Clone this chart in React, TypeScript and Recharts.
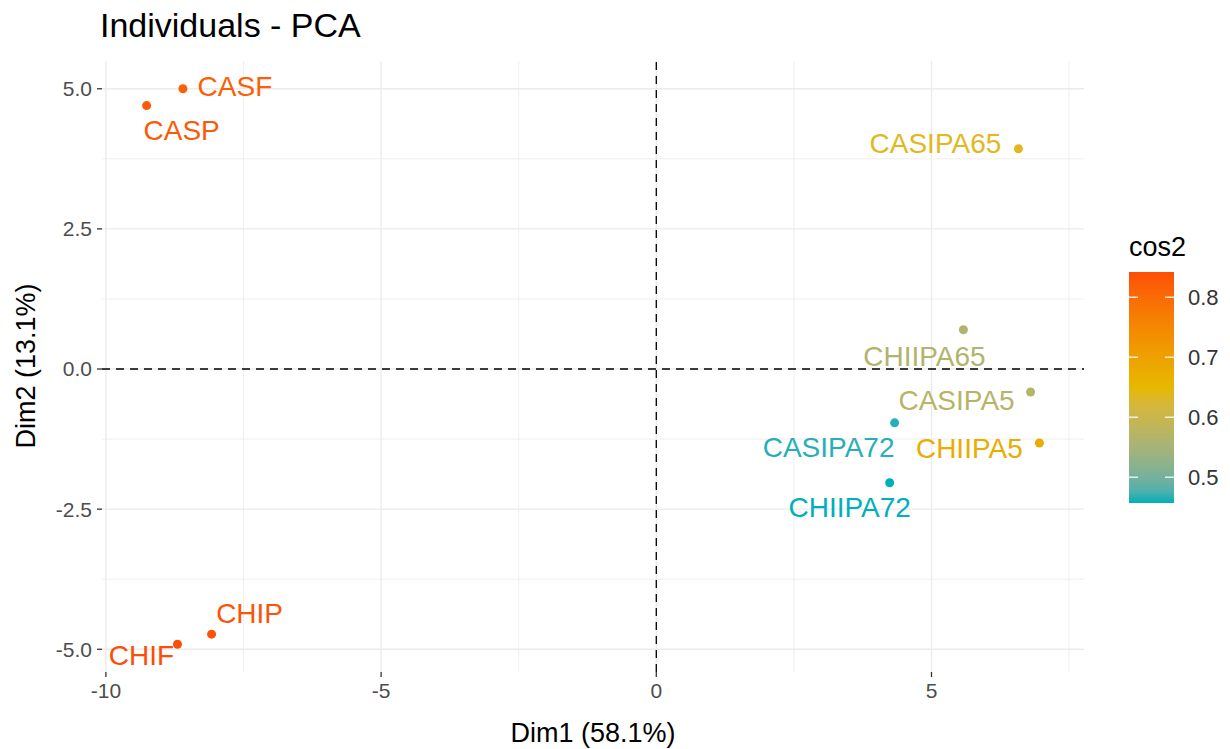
import {
  ScatterChart,
  Scatter,
  XAxis,
  YAxis,
  ReferenceLine,
} from 'recharts'

// Individuals on the first two principal components
const names = ['CASF', 'CASP', 'CHIP', 'CHIF', 'CASIPA65', 'CHIIPA65', 'CASIPA5', 'CASIPA72', 'CHIIPA5', 'CHIIPA72']
const dim1 = [-8.6, -9.26, -8.08, -8.7, 6.58, 5.58, 6.8, 4.33, 6.96, 4.24]
const dim2 = [5.0, 4.7, -4.73, -4.91, 3.93, 0.7, -0.41, -0.96, -1.32, -2.03]
const cos2 = [0.815, 0.825, 0.835, 0.842, 0.64, 0.565, 0.57, 0.462, 0.675, 0.457]

const xTicks = [-10, -5, 0, 5]
const yTicks = [-5, -2.5, 0, 2.5, 5]
const xMinor = [-7.5, -2.5, 2.5, 7.5]
const yMinor = [-3.75, -1.25, 1.25, 3.75]
const legendTicks = [0.5, 0.6, 0.7, 0.8]

// repel-style label nudges (px from the point centre)
const labelNudge: [number, number][] = [
  [52, -2], [35, 25], [38, -21], [-36, 11], [-83, -5],
  [-39, 27], [-74, 8], [-66, 25], [-70, 5], [-40, 25],
]

const gradientStops = ['#00AFBB', '#E7B800', '#FC4E07']
const FONT = '"Liberation Sans", Arial, Helvetica, sans-serif'
const GRID = '#EBEBEB'

// --- Lab colour ramp ---
const toLin = (c: number) => {
  c /= 255
  return c <= 0.04045 ? c / 12.92 : Math.pow((c + 0.055) / 1.055, 2.4)
}
const fromLin = (c: number) => {
  const v = c <= 0.0031308 ? 12.92 * c : 1.055 * Math.pow(c, 1 / 2.4) - 0.055
  return Math.round(Math.min(1, Math.max(0, v)) * 255)
}
function hexToLab(hex: string) {
  const r = toLin(parseInt(hex.slice(1, 3), 16))
  const g = toLin(parseInt(hex.slice(3, 5), 16))
  const b = toLin(parseInt(hex.slice(5, 7), 16))
  const X = (0.4124564 * r + 0.3575761 * g + 0.1804375 * b) / 0.95047
  const Y = 0.2126729 * r + 0.7151522 * g + 0.072175 * b
  const Z = (0.0193339 * r + 0.119192 * g + 0.9503041 * b) / 1.08883
  const f = (t: number) => (t > 0.008856 ? Math.cbrt(t) : 7.787 * t + 16 / 116)
  const fx = f(X), fy = f(Y), fz = f(Z)
  return [116 * fy - 16, 500 * (fx - fy), 200 * (fy - fz)]
}
function labToHex([L, a, bb]: number[]) {
  const fy = (L + 16) / 116
  const fx = fy + a / 500
  const fz = fy - bb / 200
  const finv = (t: number) => (t ** 3 > 0.008856 ? t ** 3 : (t - 16 / 116) / 7.787)
  const X = finv(fx) * 0.95047, Y = finv(fy), Z = finv(fz) * 1.08883
  const r = 3.2404542 * X - 1.5371385 * Y - 0.4985314 * Z
  const g = -0.969266 * X + 1.8760108 * Y + 0.041556 * Z
  const b = 0.0556434 * X - 0.2040259 * Y + 1.0572252 * Z
  return `rgb(${fromLin(r)},${fromLin(g)},${fromLin(b)})`
}
const stopLabs = gradientStops.map(hexToLab)
const cosMin = Math.min(...cos2)
const cosMax = Math.max(...cos2)
function rampColor(v: number) {
  const t = Math.min(1, Math.max(0, (v - cosMin) / (cosMax - cosMin)))
  const seg = Math.min(stopLabs.length - 2, Math.floor(t * (stopLabs.length - 1)))
  const lt = t * (stopLabs.length - 1) - seg
  const a = stopLabs[seg], b = stopLabs[seg + 1]
  return labToHex(a.map((c, i) => c + (b[i] - c) * lt))
}

// ggplot-like 5% expansion
const expand = (vals: number[]) => {
  const lo = Math.min(...vals), hi = Math.max(...vals)
  const pad = (hi - lo) * 0.05
  return [lo - pad, hi + pad]
}
const xDomain = expand(dim1)
const yDomain = expand(dim2)

const points = names.map((name, i) => ({
  name,
  x: dim1[i],
  y: dim2[i],
  cos2: cos2[i],
  color: rampColor(cos2[i]),
  nudge: labelNudge[i],
}))

function PointWithLabel(props: any) {
  const { cx, cy, payload } = props
  if (cx == null || cy == null) return null
  const [dx, dy] = payload.nudge
  return (
    <g>
      <circle cx={cx} cy={cy} r={4.5} fill={payload.color} />
      <text
        x={cx + dx}
        y={cy + dy}
        textAnchor="middle"
        dominantBaseline="central"
        fontSize={28}
        fontFamily={FONT}
        fill={payload.color}
      >
        {payload.name}
      </text>
    </g>
  )
}

// continuous colour bar for cos2
function ColorBar() {
  const barTop = 42
  const barH = 231
  const barW = 45
  const pos = (v: number) => barTop + barH * (1 - (v - cosMin) / (cosMax - cosMin))
  const stops = Array.from({ length: 21 }, (_, i) => i / 20)
  return (
    <svg width={110} height={290} style={{ position: 'absolute', left: 1129, top: 230 }}>
      <defs>
        <linearGradient id="cosGrad" x1="0" y1="1" x2="0" y2="0">
          {stops.map((s) => (
            <stop key={s} offset={s} stopColor={rampColor(cosMin + s * (cosMax - cosMin))} />
          ))}
        </linearGradient>
      </defs>
      <text x={0} y={26} fontSize={27} fontFamily={FONT} fill="#000">cos2</text>
      <rect x={0} y={barTop} width={barW} height={barH} fill="url(#cosGrad)" />
      {legendTicks.map((t) => (
        <g key={t}>
          <line x1={0} x2={9} y1={pos(t)} y2={pos(t)} stroke="#fff" strokeWidth={1.2} />
          <line x1={barW - 9} x2={barW} y1={pos(t)} y2={pos(t)} stroke="#fff" strokeWidth={1.2} />
          <text x={59} y={pos(t)} dominantBaseline="central" fontSize={22} fontFamily={FONT} fill="#333">
            {t.toFixed(1)}
          </text>
        </g>
      ))}
    </svg>
  )
}

export default function App() {
  const tickStyle = { fontSize: 21, fill: '#4D4D4D', fontFamily: FONT }
  return (
    <div style={{ position: 'absolute', left: 0, top: 0, width: 1230, height: 749, background: '#fff' }}>
      <div
        style={{
          position: 'absolute', left: 100, top: 8, fontSize: 34, lineHeight: 1,
          fontFamily: FONT, color: '#000', whiteSpace: 'nowrap',
        }}
      >
        Individuals - PCA
      </div>
      <div
        style={{
          position: 'absolute', left: 593, top: 733, transform: 'translate(-50%, -50%)',
          fontSize: 27, lineHeight: 1, fontFamily: FONT, color: '#000', whiteSpace: 'nowrap',
        }}
      >
        Dim1 (58.1%)
      </div>
      <div
        style={{
          position: 'absolute', left: 26, top: 366, transform: 'translate(-50%, -50%) rotate(-90deg)',
          fontSize: 27, lineHeight: 1, fontFamily: FONT, color: '#000', whiteSpace: 'nowrap',
        }}
      >
        Dim2 (13.1%)
      </div>
      <ScatterChart
        width={1230}
        height={749}
        margin={{ top: 61, right: 146, bottom: 0, left: 0 }}
      >
        <XAxis
          type="number"
          dataKey="x"
          domain={xDomain}
          ticks={xTicks}
          interval={0}
          allowDataOverflow
          axisLine={false}
          tickLine={{ stroke: '#333', strokeWidth: 1.3 }}
          tickSize={5}
          tickMargin={6}
          height={77}
          tick={tickStyle}
        />
        <YAxis
          type="number"
          dataKey="y"
          domain={yDomain}
          ticks={yTicks}
          interval={0}
          allowDataOverflow
          axisLine={false}
          tickLine={{ stroke: '#333', strokeWidth: 1.3 }}
          tickSize={5}
          tickMargin={5}
          width={102}
          tick={tickStyle}
          tickFormatter={(v: number) => v.toFixed(1)}
        />
        {xMinor.map((v) => (
          <ReferenceLine key={`xm${v}`} x={v} stroke={GRID} strokeWidth={0.8} />
        ))}
        {yMinor.map((v) => (
          <ReferenceLine key={`ym${v}`} y={v} stroke={GRID} strokeWidth={0.8} />
        ))}
        {xTicks.map((v) => (
          <ReferenceLine key={`xM${v}`} x={v} stroke={GRID} strokeWidth={1.4} />
        ))}
        {yTicks.map((v) => (
          <ReferenceLine key={`yM${v}`} y={v} stroke={GRID} strokeWidth={1.4} />
        ))}
        <ReferenceLine x={0} stroke="#000" strokeWidth={1.3} strokeDasharray="8 6" />
        <ReferenceLine y={0} stroke="#000" strokeWidth={1.3} strokeDasharray="8 6" />
        <Scatter data={points} shape={PointWithLabel} isAnimationActive={false} />
      </ScatterChart>
      <ColorBar />
    </div>
  )
}
